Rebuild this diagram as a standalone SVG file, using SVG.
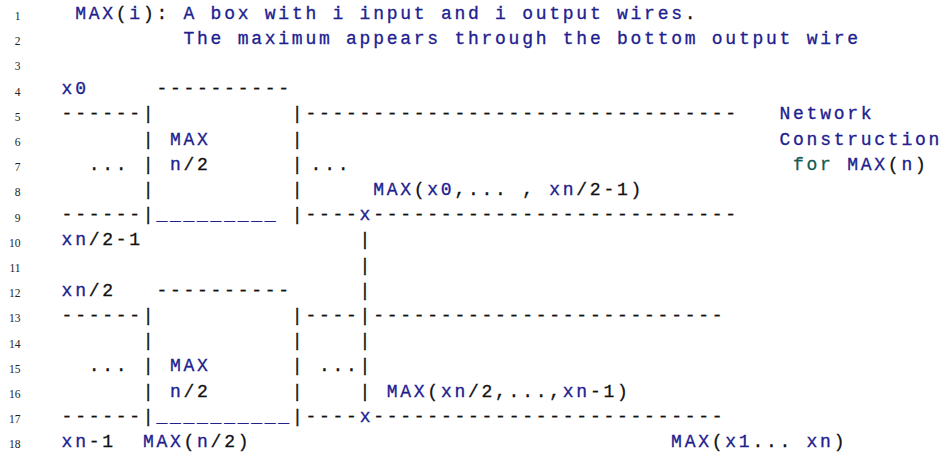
<svg xmlns="http://www.w3.org/2000/svg" width="941" height="454" viewBox="0 0 941 454">
  <style>
    .ln { font-family: "Liberation Serif", serif; font-size: 11.5px; fill: #222; text-anchor: end; }
    .c  { font-family: "Liberation Mono", monospace; font-size: 18px; letter-spacing: 2.745px; fill: #111; stroke: #111; stroke-width: 0.3px; }
    .i  { fill: #20208f; stroke: #20208f; }
    .k  { fill: #145a50; stroke: #145a50; }
  </style>
  <rect width="941" height="454" fill="#fff"/>

  <!-- line numbers -->
  <g id="line-numbers">
    <text class="ln" x="20.5" y="20">1</text>
    <text class="ln" x="20.5" y="45.2">2</text>
    <text class="ln" x="20.5" y="70.4">3</text>
    <text class="ln" x="20.5" y="95.6">4</text>
    <text class="ln" x="20.5" y="120.8">5</text>
    <text class="ln" x="20.5" y="146">6</text>
    <text class="ln" x="20.5" y="171.2">7</text>
    <text class="ln" x="20.5" y="196.4">8</text>
    <text class="ln" x="20.5" y="221.6">9</text>
    <text class="ln" x="20.5" y="246.8">10</text>
    <text class="ln" x="20.5" y="272">11</text>
    <text class="ln" x="20.5" y="297.2">12</text>
    <text class="ln" x="20.5" y="322.4">13</text>
    <text class="ln" x="20.5" y="347.6">14</text>
    <text class="ln" x="20.5" y="372.8">15</text>
    <text class="ln" x="20.5" y="398">16</text>
    <text class="ln" x="20.5" y="423.2">17</text>
    <text class="ln" x="20.5" y="448.4">18</text>
  </g>

  <!-- listing body: one text per line, columns at 13.545px pitch -->
  <g id="listing">
    <text id="l1" class="c" x="75.15" y="18.5" xml:space="preserve"><tspan class="i">MAX</tspan>(<tspan class="i">i</tspan>): <tspan class="i">A box with i input and i output wires</tspan>.</text>
    <text id="l2" class="c" x="183.5" y="43.7" xml:space="preserve"><tspan class="i">The maximum appears through the bottom output wire</tspan></text>
    <text id="l4" class="c" x="61.6" y="94.1" xml:space="preserve"><tspan class="i">x0</tspan><tspan x="156.4">----------</tspan></text>
    <text id="l5" class="c" x="61.6" y="119.3" xml:space="preserve">------|<tspan x="291.87">|--------------------------------</tspan><tspan x="779.5" class="i">Network</tspan></text>
    <text id="l6" class="c" x="142.87" y="144.5" xml:space="preserve">| <tspan class="i">MAX</tspan><tspan x="291.87">|</tspan><tspan x="779.5" class="i">Construction</tspan></text>
    <text id="l7" class="c" x="88.7" y="169.7" xml:space="preserve">... | <tspan class="i">n</tspan>/2<tspan x="291.87">|</tspan><tspan x="310.6">...</tspan><tspan x="793" class="k">for</tspan> <tspan class="i">MAX</tspan>(<tspan class="i">n</tspan>)</text>
    <text id="l8" class="c" x="142.87" y="194.9" xml:space="preserve">|<tspan x="291.87">|</tspan><tspan x="373.14" class="i">MAX</tspan>(<tspan class="i">x0</tspan>,... , <tspan class="i">xn</tspan>/2-1)</text>
    <text id="l9" class="c" x="61.6" y="220.1" xml:space="preserve">------|<tspan class="i">_________</tspan><tspan x="291.87">|----</tspan><tspan class="i">x</tspan>---------------------------</text>
    <text id="l10" class="c" x="61.6" y="245.3" xml:space="preserve"><tspan class="i">xn</tspan>/2-1<tspan x="359.6">|</tspan></text>
    <text id="l11" class="c" x="359.6" y="270.5" xml:space="preserve">|</text>
    <text id="l12" class="c" x="61.6" y="295.7" xml:space="preserve"><tspan class="i">xn</tspan>/2<tspan x="156.4">----------</tspan><tspan x="359.6">|</tspan></text>
    <text id="l13" class="c" x="61.6" y="320.9" xml:space="preserve">------|<tspan x="291.87">|----|--------------------------</tspan></text>
    <text id="l14" class="c" x="142.87" y="346.1" xml:space="preserve">|<tspan x="291.87">|    |</tspan></text>
    <text id="l15" class="c" x="88.7" y="371.3" xml:space="preserve">... | <tspan class="i">MAX</tspan><tspan x="291.87">| ...|</tspan></text>
    <text id="l16" class="c" x="142.87" y="396.5" xml:space="preserve">| <tspan class="i">n</tspan>/2<tspan x="291.87">|    | </tspan><tspan class="i">MAX</tspan>(<tspan class="i">xn</tspan>/2,...,<tspan class="i">xn</tspan>-1)</text>
    <text id="l17" class="c" x="61.6" y="421.7" xml:space="preserve">------|<tspan class="i">__________</tspan>|----<tspan class="i">x</tspan>--------------------------</text>
    <text id="l18" class="c" x="61.6" y="446.9" xml:space="preserve"><tspan class="i">xn</tspan>-1  <tspan class="i">MAX</tspan>(<tspan class="i">n</tspan>/2)<tspan x="671.1" class="i">MAX</tspan>(<tspan class="i">x1</tspan>... <tspan class="i">xn</tspan>)</text>
  </g>
</svg>
